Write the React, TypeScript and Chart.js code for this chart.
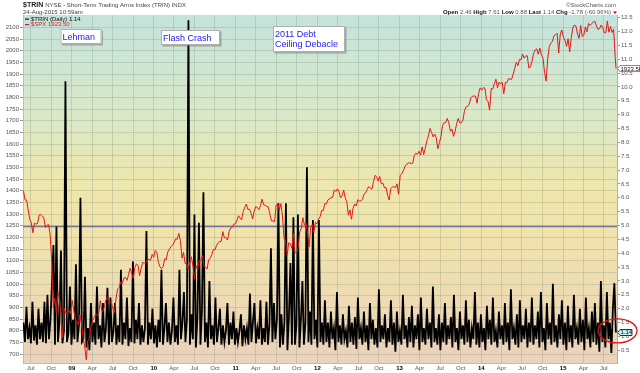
import React, { useEffect, useRef } from "react";
import { Chart, registerables } from "chart.js";

Chart.register(...registerables);

const FONT = '"Liberation Sans", Arial, Helvetica, sans-serif';
const DAY = 86400000;

// ---------- DATA ----------
// S&P 500 weekly closes (first week ends 30-May-2008)
const SPX_FIRST_WEEK = Date.UTC(2008, 4, 30);
const SPX_2008 = [1400, 1361, 1360, 1318, 1278, 1262, 1220, 1261, 1257, 1260, 1296, 1298, 1292, 1283, 1242, 1252, 1255, 1213, 1099, 899, 940, 877, 968, 930, 873, 770, 896, 876, 879, 887, 873];
const SPX_2009 = [931, 890, 850, 832, 826, 869, 827, 770, 735, 676, 756, 768, 816, 843, 857, 870, 866, 878, 929, 882, 887, 919, 940, 946, 921, 918, 896, 879, 940, 979, 987, 1010, 1004, 1026, 1029, 1016, 1042, 1068, 1044, 1025, 1071, 1087, 1080, 1036, 1069, 1093, 1091, 1091, 1106, 1106, 1102, 1127];
const SPX_2010 = [1115, 1145, 1136, 1092, 1074, 1066, 1075, 1109, 1105, 1139, 1150, 1160, 1167, 1179, 1194, 1192, 1217, 1187, 1111, 1136, 1088, 1089, 1064, 1092, 1117, 1076, 1022, 1078, 1065, 1102, 1102, 1122, 1079, 1071, 1065, 1105, 1110, 1126, 1149, 1146, 1166, 1176, 1183, 1183, 1225, 1199, 1199, 1189, 1225, 1240, 1244, 1257, 1258];
const SPX_2011 = [1272, 1293, 1283, 1276, 1311, 1329, 1343, 1320, 1321, 1304, 1279, 1313, 1332, 1328, 1319, 1337, 1364, 1340, 1338, 1333, 1331, 1300, 1271, 1271, 1268, 1340, 1344, 1316, 1345, 1292, 1199, 1179, 1124, 1177, 1174, 1154, 1216, 1136, 1131, 1155, 1224, 1238, 1285, 1253, 1263, 1216, 1159, 1244, 1255, 1219, 1265, 1258];
const SPX_2012 = [1278, 1289, 1315, 1316, 1345, 1343, 1361, 1366, 1370, 1371, 1404, 1397, 1408, 1398, 1370, 1378, 1403, 1370, 1353, 1295, 1318, 1278, 1325, 1343, 1335, 1362, 1355, 1357, 1363, 1386, 1391, 1406, 1418, 1411, 1407, 1438, 1466, 1460, 1441, 1461, 1429, 1433, 1412, 1414, 1380, 1360, 1409, 1416, 1418, 1413, 1430, 1385];
const SPX_2013 = [1466, 1472, 1486, 1503, 1513, 1518, 1520, 1516, 1518, 1551, 1561, 1556, 1569, 1553, 1588, 1555, 1582, 1614, 1634, 1667, 1650, 1631, 1643, 1626, 1580, 1606, 1632, 1680, 1692, 1692, 1710, 1691, 1655, 1664, 1633, 1655, 1688, 1710, 1691, 1691, 1703, 1744, 1759, 1762, 1771, 1798, 1805, 1806, 1805, 1775, 1818, 1841];
const SPX_2014 = [1831, 1842, 1839, 1790, 1782, 1745, 1838, 1836, 1859, 1878, 1841, 1866, 1857, 1865, 1815, 1864, 1863, 1881, 1878, 1877, 1900, 1924, 1950, 1936, 1963, 1961, 1985, 1968, 1978, 1978, 1925, 1931, 1955, 1988, 2003, 2008, 1985, 2011, 1982, 1968, 1906, 1870, 1965, 2018, 2032, 2040, 2064, 2068, 2075, 1990, 2071, 2089];
const SPX_2015 = [2058, 2045, 2019, 2051, 1995, 2055, 2097, 2110, 2105, 2071, 2053, 2108, 2061, 2067, 2102, 2081, 2117, 2108, 2116, 2123, 2126, 2107, 2092, 2094, 2110, 2102, 2077, 2077, 2127, 2079, 2104, 2078, 2092, 1971];
const SPX_LAST_DATE = Date.UTC(2015, 7, 24, 15);
const SPX_LAST = 1923.5;

// NYSE TRIN, evenly spaced readings from 30-May-2008 to 24-Aug-2015
const TRIN_START = Date.UTC(2008, 4, 30);
const TRIN_END = Date.UTC(2015, 7, 24);
const TRIN_2008_2011 = [
  1.5, 0.8, 2.07, 0.9, 1.3, 0.75, 2.25, 0.85, 1.4, 0.7, 2.0, 0.9, 1.5, 0.8, 2.25, 0.75, 2.5, 0.9, 1.6, 2.9,
  4.3, 0.7, 4.96, 0.8, 1.5, 4.1, 0.75, 1.2, 10.2, 0.8, 1.1, 2.8, 0.7, 1.6, 0.9, 3.6, 0.8, 1.4, 6.0, 0.8,
  0.9, 3.15, 0.6, 1.3, 0.5, 2.2, 0.8, 1.5, 0.7, 2.8, 0.9, 1.4, 0.6, 2.2, 0.8, 1.3, 2.75, 0.7, 2.4, 0.8,
  1.2, 2.2, 0.7, 1.4, 0.8, 3.4, 0.7, 1.5, 0.9, 2.4, 0.65, 1.3, 0.8, 3.7, 0.75, 1.6, 0.9, 2.2, 0.7, 1.4,
  0.8, 1.3, 4.8, 0.7, 1.5, 0.9, 2.0, 0.75, 1.4, 0.6, 1.6, 0.8, 3.4, 0.7, 1.3, 2.2, 0.8, 1.5, 0.7, 1.2,
  2.4, 0.8, 1.4, 0.7, 3.4, 0.9, 1.5, 2.6, 0.8, 1.6, 12.4, 0.7, 1.8, 0.9, 5.4, 0.6, 1.7, 5.1, 0.7, 1.9,
  6.2, 0.8, 1.5, 0.6, 3.0, 0.9, 1.4, 0.7, 2.4, 0.8, 1.3, 2.0, 0.7, 1.4, 0.8, 1.2, 2.2, 0.7, 1.5, 0.9,
  1.9, 0.7, 1.3, 0.8, 1.2, 1.8, 0.65, 1.4, 0.9, 1.3, 0.7, 2.55, 0.8, 1.5, 2.2, 0.75, 1.3, 0.9, 2.3, 0.7,
  1.3, 0.8, 2.25, 0.7, 1.4, 4.18, 0.8, 2.2, 0.9, 1.6, 5.8, 0.6, 1.8, 0.7, 1.5, 5.8, 0.5, 1.7, 3.65, 0.7,
  5.3, 0.7, 1.4, 5.4, 0.6, 1.6, 3.0, 0.7, 1.5, 7.1, 0.8, 1.9, 0.7, 5.2, 0.9, 1.6, 0.6, 5.2, 0.8, 1.5,
];
const TRIN_2012_2015 = [
  0.7, 2.3, 0.8, 1.5, 0.6, 1.9, 0.9, 1.3, 0.5, 2.6, 0.8, 1.4, 0.7, 1.8, 0.9, 1.2, 0.6, 2.1, 0.8, 1.5,
  0.7, 1.7, 0.55, 2.4, 0.9, 1.3, 0.7, 1.9, 0.8, 1.4, 0.5, 2.2, 0.9, 1.6, 0.7, 1.3, 0.6, 2.7, 0.8, 1.4,
  0.9, 1.8, 0.6, 1.3, 0.8, 2.3, 0.7, 1.5, 0.45, 1.9, 0.8, 1.2, 0.7, 2.5, 0.9, 1.4, 0.6, 1.7, 0.8, 2.1,
  0.6, 1.4, 0.9, 1.8, 0.5, 2.4, 0.8, 1.3, 0.7, 2.0, 0.9, 1.5, 0.6, 2.8, 0.8, 1.3, 0.7, 1.8, 0.5, 1.5,
  0.8, 2.2, 0.7, 1.4, 0.9, 1.7, 0.6, 2.5, 0.8, 1.3, 0.5, 1.9, 0.9, 1.4, 0.7, 2.3, 0.8, 1.6, 0.6, 1.3,
  0.9, 2.6, 0.7, 1.5, 0.6, 1.8, 0.8, 1.3, 0.5, 2.1, 0.9, 1.6, 0.7, 2.4, 0.8, 1.2, 0.6, 1.9, 0.9, 1.4,
  0.7, 2.2, 0.8, 1.5, 0.5, 2.7, 0.9, 1.3, 0.7, 1.8, 0.6, 2.3, 0.8, 1.4, 0.9, 2.0, 0.6, 1.5, 0.8, 2.4,
  0.7, 1.4, 0.9, 1.9, 0.6, 2.6, 0.8, 1.3, 0.5, 2.2, 0.9, 1.5, 0.7, 2.9, 0.8, 1.4, 0.6, 1.8, 0.9, 2.3,
  0.7, 1.5, 0.5, 2.1, 0.8, 1.4, 0.6, 2.5, 0.9, 1.3, 0.7, 2.0, 0.8, 1.6, 0.5, 2.4, 0.9, 1.3, 0.6, 1.9,
  0.8, 2.2, 0.7, 1.5, 0.45, 3.0, 0.8, 1.4, 0.6, 2.6, 0.9, 1.5, 0.4, 2.0, 2.92, 1.14,
];
const TRIN_LAST = 1.14;
const TRIN_REF_LEVEL = 5.0;

// Axes
const X_MIN = Date.UTC(2008, 4, 28);
const X_MAX = Date.UTC(2015, 7, 29);
const SPX_MIN = 662;
const SPX_MAX = 2153;
const TRIN_MIN = 0.04;
const TRIN_MAX = 12.594;
const SPX_TICKS = [700, 750, 800, 850, 900, 950, 1000, 1050, 1100, 1150, 1200, 1250, 1300, 1350, 1400, 1450, 1500, 1550, 1600, 1650, 1700, 1750, 1800, 1850, 1900, 1950, 2000, 2050, 2100];
const TRIN_TICKS = [0.5, 1, 1.5, 2, 2.5, 3, 3.5, 4, 4.5, 5, 5.5, 6, 6.5, 7, 7.5, 8, 8.5, 9, 9.5, 10, 10.5, 11, 11.5, 12, 12.5];
const TICK_YEARS = [2008, 2009, 2010, 2011, 2012, 2013, 2014, 2015];
const TICK_MONTHS = [0, 3, 6, 9];
const MONTH_NAMES = ["", "", "", "Apr", "", "", "Jul", "", "", "Oct", "", ""];

// Texts
const TITLE_SYMBOL = "$TRIN";
const TITLE_REST = "NYSE - Short-Term Trading Arms Index (TRIN) INDX";
const TITLE_DATE = "24-Aug-2015 10:59am";
const COPYRIGHT = "\u00A9StockCharts.com";
const QUOTE = [["Open", " 2.46 "], ["High", " 7.61 "], ["Low", " 0.88 "], ["Last", " 1.14 "], ["Chg", " -1.78 (-60.96%)"]];
const LEGEND_TRIN = "$TRIN (Daily) 1.14";
const LEGEND_SPX = "$SPX 1923.50";
const NOTES = [
  { lines: ["Lehman"], x: 60.5, y: 29, w: 41, h: 15 },
  { lines: ["Flash Crash"], x: 161, y: 30, w: 59, h: 15 },
  { lines: ["2011 Debt", "Ceiling Debacle"], x: 273, y: 26, w: 72, h: 26 },
];

const BG_STOPS: [number, string][] = [
  [0, "#c4e3dc"],
  [0.28, "#d9e8c8"],
  [0.5, "#efe6ab"],
  [0.68, "#f0e1ad"],
  [1, "#ebd2bb"],
];

const X_TICKS = TICK_YEARS.flatMap((y) => TICK_MONTHS.map((m) => Date.UTC(y, m, 1))).filter(
  (t) => t >= X_MIN && t <= X_MAX
);

function xLabel(v: number) {
  const d = new Date(v);
  const m = d.getUTCMonth();
  if (m === 0) return String(d.getUTCFullYear() % 100).padStart(2, "0");
  return MONTH_NAMES[m];
}
function isYearTick(v: number) {
  return new Date(v).getUTCMonth() === 0;
}

const decor = {
  id: "decor",
  beforeDraw(chart: any) {
    const { ctx, chartArea: a } = chart;
    ctx.save();
    ctx.fillStyle = "#ffffff";
    ctx.fillRect(0, 0, chart.width, chart.height);
    const g = ctx.createLinearGradient(0, a.top, 0, a.bottom);
    BG_STOPS.forEach(([p, c]) => g.addColorStop(p, c));
    ctx.fillStyle = g;
    ctx.fillRect(a.left, a.top, a.right - a.left, a.bottom - a.top);
    ctx.restore();
  },
  beforeDatasetsDraw(chart: any) {
    const { ctx, chartArea: a } = chart;
    const y = Math.round(chart.scales.y2.getPixelForValue(TRIN_REF_LEVEL)) + 0.5;
    ctx.save();
    ctx.strokeStyle = "rgba(95,95,150,0.85)";
    ctx.lineWidth = 1.5;
    ctx.beginPath();
    ctx.moveTo(a.left, y);
    ctx.lineTo(a.right, y);
    ctx.stroke();
    ctx.restore();
  },
  afterDraw(chart: any) {
    const { ctx, chartArea: a } = chart;
    ctx.save();
    ctx.textBaseline = "middle";
    // Title
    ctx.fillStyle = "#222";
    ctx.font = `bold 7px ${FONT}`;
    ctx.textAlign = "left";
    ctx.fillText(TITLE_SYMBOL, a.left, 5.5);
    const w0 = ctx.measureText(TITLE_SYMBOL + " ").width;
    ctx.font = `6px ${FONT}`;
    ctx.fillStyle = "#444";
    ctx.fillText(TITLE_REST, a.left + w0, 5.5);
    ctx.fillText(TITLE_DATE, a.left, 12.5);
    // copyright
    ctx.textAlign = "right";
    ctx.fillStyle = "#555";
    ctx.fillText(COPYRIGHT, a.right - 1, 5);
    // quote line
    ctx.textAlign = "left";
    let total = 0;
    QUOTE.forEach(([k, v]) => {
      ctx.font = `bold 6px ${FONT}`;
      total += ctx.measureText(k).width;
      ctx.font = `6px ${FONT}`;
      total += ctx.measureText(v).width;
    });
    let qx = a.right - 6 - total;
    QUOTE.forEach(([k, v]) => {
      ctx.font = `bold 6px ${FONT}`;
      ctx.fillStyle = "#111";
      ctx.fillText(k, qx, 12.5);
      qx += ctx.measureText(k).width;
      ctx.font = `6px ${FONT}`;
      ctx.fillStyle = "#555";
      ctx.fillText(v, qx, 12.5);
      qx += ctx.measureText(v).width;
    });
    ctx.fillStyle = "#d00";
    ctx.beginPath();
    ctx.moveTo(a.right - 4, 11.5);
    ctx.lineTo(a.right, 11.5);
    ctx.lineTo(a.right - 2, 14);
    ctx.closePath();
    ctx.fill();

    // legend in plot
    ctx.font = `6px ${FONT}`;
    ctx.fillStyle = "#111";
    ctx.fillRect(a.left + 2, 18.5, 4, 1.2);
    ctx.fillText(LEGEND_TRIN, a.left + 8, 19.2);
    ctx.fillStyle = "#e01818";
    ctx.fillRect(a.left + 2, 24, 4, 1.2);
    ctx.fillText(LEGEND_SPX, a.left + 8, 24.7);

    // annotation boxes
    NOTES.forEach((n) => {
      ctx.fillStyle = "rgba(120,120,120,0.55)";
      ctx.fillRect(n.x + 1.5, n.y + 1.5, n.w, n.h);
      ctx.fillStyle = "#ffffff";
      ctx.fillRect(n.x, n.y, n.w, n.h);
      ctx.strokeStyle = "#b0b0b0";
      ctx.lineWidth = 1;
      ctx.strokeRect(n.x + 0.5, n.y + 0.5, n.w - 1, n.h - 1);
      ctx.fillStyle = "#1c1cf0";
      ctx.font = `9px ${FONT}`;
      ctx.textAlign = "left";
      ctx.textBaseline = "alphabetic";
      n.lines.forEach((l, i) => {
        ctx.fillText(l, n.x + 2, n.y + 10.5 + i * 10.6);
      });
      ctx.textBaseline = "middle";
    });

    // last value tags
    const ys = chart.scales.y.getPixelForValue(SPX_LAST);
    ctx.fillStyle = "#ffffff";
    ctx.strokeStyle = "#e06060";
    ctx.lineWidth = 1;
    ctx.beginPath();
    ctx.moveTo(a.right + 0.5, ys);
    ctx.lineTo(a.right + 3, ys - 3);
    ctx.lineTo(640, ys - 3);
    ctx.lineTo(640, ys + 3);
    ctx.lineTo(a.right + 3, ys + 3);
    ctx.closePath();
    ctx.fill();
    ctx.stroke();
    ctx.fillStyle = "#111";
    ctx.font = `6px ${FONT}`;
    ctx.textAlign = "left";
    ctx.fillText(SPX_LAST.toFixed(2), a.right + 3.5, ys + 0.3);

    const yt = chart.scales.y2.getPixelForValue(TRIN_LAST);
    ctx.fillStyle = "#bff0f2";
    ctx.strokeStyle = "#333";
    ctx.beginPath();
    ctx.moveTo(a.right + 0.5, yt);
    ctx.lineTo(a.right + 3, yt - 3);
    ctx.lineTo(a.right + 15, yt - 3);
    ctx.lineTo(a.right + 15, yt + 3);
    ctx.lineTo(a.right + 3, yt + 3);
    ctx.closePath();
    ctx.fill();
    ctx.stroke();
    ctx.fillStyle = "#111";
    ctx.fillText(TRIN_LAST.toFixed(2), a.right + 3.5, yt + 0.3);

    // red circle around last TRIN reading
    const yc = chart.scales.y2.getPixelForValue(1.2);
    ctx.strokeStyle = "#e01010";
    ctx.lineWidth = 1.3;
    ctx.beginPath();
    ctx.ellipse(a.right + 0.5, yc, 19.5, 12, 0, 0, Math.PI * 2);
    ctx.stroke();
    ctx.restore();
  },
};

export default function App() {
  const ref = useRef<HTMLCanvasElement | null>(null);

  useEffect(() => {
    if (!ref.current) return;
    const spxValues = [...SPX_2008, ...SPX_2009, ...SPX_2010, ...SPX_2011, ...SPX_2012, ...SPX_2013, ...SPX_2014, ...SPX_2015];
    const spxData = spxValues
      .map((v, i) => ({ x: SPX_FIRST_WEEK + i * 7 * DAY, y: v }))
      .concat([{ x: SPX_LAST_DATE, y: SPX_LAST }]);
    const trinValues = [...TRIN_2008_2011, ...TRIN_2012_2015];
    const n = trinValues.length;
    const trinData = trinValues.map((v, i) => ({
      x: TRIN_START + ((TRIN_END - TRIN_START) * i) / (n - 1),
      y: v,
    }));

    const gridColor = "rgba(105,135,115,0.25)";
    const chart = new Chart(ref.current, {
      type: "line",
      data: {
        datasets: [
          {
            label: "$SPX",
            data: spxData,
            yAxisID: "y",
            borderColor: "#e41818",
            borderWidth: 1,
            pointRadius: 0,
            tension: 0,
          },
          {
            label: "$TRIN",
            data: trinData,
            yAxisID: "y2",
            borderColor: "#000000",
            borderWidth: 1.8,
            pointRadius: 0,
            tension: 0,
          },
        ],
      },
      options: {
        animation: false,
        responsive: false,
        maintainAspectRatio: false,
        layout: { padding: { top: 15, left: 0, right: 0, bottom: 0 } },
        plugins: { legend: { display: false }, tooltip: { enabled: false } },
        scales: {
          x: {
            type: "linear",
            min: X_MIN,
            max: X_MAX,
            afterBuildTicks: (s: any) => {
              s.ticks = X_TICKS.map((v) => ({ value: v }));
            },
            afterFit: (s: any) => {
              s.height = 10;
            },
            ticks: {
              autoSkip: false,
              maxRotation: 0,
              minRotation: 0,
              padding: 2,
              callback: (v: any) => xLabel(Number(v)),
              font: (c: any) => ({
                size: 6,
                family: FONT,
                weight: c.tick && isYearTick(c.tick.value) ? "bold" : "normal",
              }),
              color: (c: any) => (c.tick && isYearTick(c.tick.value) ? "#000" : "#555"),
            },
            grid: { color: gridColor, drawTicks: false, tickLength: 0 },
            border: { color: "#a9c4cc" },
          },
          y: {
            position: "left",
            min: SPX_MIN,
            max: SPX_MAX,
            afterBuildTicks: (s: any) => {
              s.ticks = SPX_TICKS.map((v) => ({ value: v }));
            },
            afterFit: (s: any) => {
              s.width = 23;
            },
            ticks: {
              autoSkip: false,
              padding: 1,
              color: "#555",
              font: { size: 6, family: FONT },
              callback: (v: any) => String(v),
            },
            grid: { color: gridColor, tickLength: 3, tickColor: "#999" },
            border: { color: "#a9c4cc" },
          },
          y2: {
            position: "right",
            min: TRIN_MIN,
            max: TRIN_MAX,
            afterBuildTicks: (s: any) => {
              s.ticks = TRIN_TICKS.map((v) => ({ value: v }));
            },
            afterFit: (s: any) => {
              s.width = 23;
            },
            ticks: {
              autoSkip: false,
              padding: 1,
              color: "#555",
              font: { size: 6, family: FONT },
              callback: (v: any) => Number(v).toFixed(1),
            },
            grid: { drawOnChartArea: false, tickLength: 3, tickColor: "#999" },
            border: { color: "#8fbccc", dash: [1, 1] },
          },
        },
      } as any,
      plugins: [decor],
    });
    return () => chart.destroy();
  }, []);

  return (
    <div style={{ position: "fixed", left: 0, top: 0, width: 640, height: 373, background: "#fff" }}>
      <canvas ref={ref} width={640} height={373} style={{ display: "block" }} />
    </div>
  );
}
